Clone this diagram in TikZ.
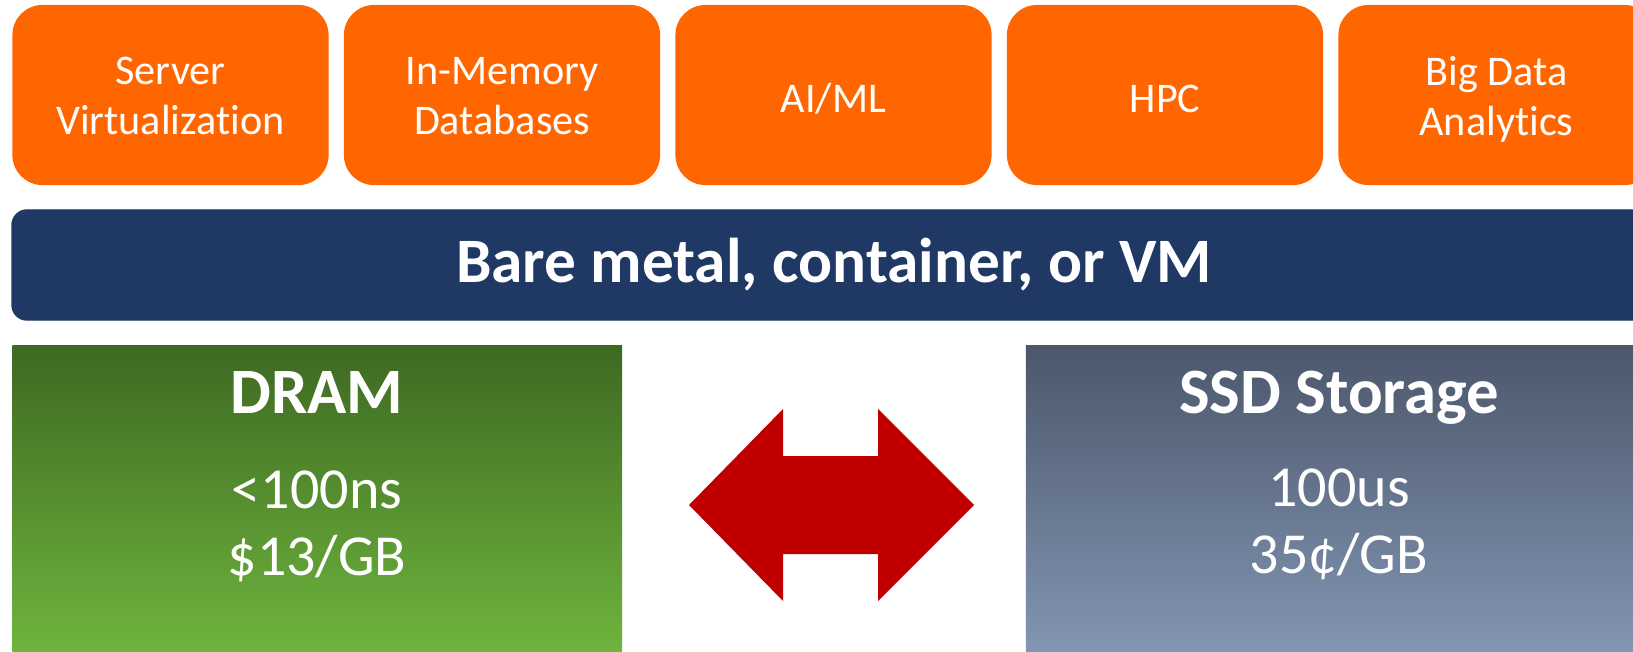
\documentclass[tikz,border=0pt]{standalone}
\usepackage{fontspec}
\setmainfont{Carlito}[Ligatures={NoCommon}]
\usepackage{tikz}

\definecolor{appcol}{HTML}{FF6600}
\definecolor{bandcol}{HTML}{203864}
\definecolor{dramtop}{HTML}{3E6922}
\definecolor{drambot}{HTML}{6EB43D}
\definecolor{ssdtop}{HTML}{4B576B}
\definecolor{ssdbot}{HTML}{8295B2}
\definecolor{xfercol}{HTML}{C00000}

\begin{document}
\begin{tikzpicture}
        [%%%%%%%%%%%%%%%%%%%%%%%%%%%%%%
        x=0.01cm, y=-0.01cm,
        app/.style={rectangle, rounded corners=0.3cm, fill=appcol,
          minimum width=3.16cm, minimum height=1.80cm},
        apptext/.style={text=white, align=center, inner sep=0pt,
          font=\fontsize{12}{14.2}\selectfont,
          execute at begin node=\strut, execute at end node=\strut},
        band/.style={rectangle, rounded corners=0.15cm, fill=bandcol, draw=bandcol,
          text=white, minimum width=16.43cm, minimum height=1.10cm,
          font=\bfseries\fontsize{18}{21}\selectfont},
        mem/.style={rectangle, minimum height=3.05cm},
        title/.style={anchor=base, text=white, font=\bfseries\fontsize{18.4}{21}\selectfont},
        value/.style={anchor=base, text=white, font=\fontsize{16.5}{19}\selectfont},
        ]%%%%%%%%%%%%%%%%%%%%%%%%%%%%%%
        \useasboundingbox (0,0) rectangle (1633,651);
        \clip (0,0) rectangle (1633,651);
        % Workload boxes
        \foreach \txt [count=\i] in {{Server\\Virtualization},{In-Memory\\Databases},
            AI/ML,HPC,{Big Data\\Analytics}}{
          \node[app] (app\i) at ({170.5+331.5*(\i-1)},95) {};
          \node[apptext] (lbl\i) at ([yshift=-0.08cm]app\i.center) {\txt};
        }
        % Host layer
        \node[band] (host) at (834,265) {Bare metal, container, or VM};
        % Memory and storage
        \node[mem, minimum width=6.095cm, top color=dramtop, bottom color=drambot]
          (dram) at (317.25,498.5) {};
        \node[mem, minimum width=6.26cm, top color=ssdtop, bottom color=ssdbot]
          (ssd) at (1339,498.5) {};
        % Text
        \node[title] (dramname) at (317,413) {DRAM};
        \node[value] (dramlat) at (317,508) {<100ns};
        \node[value] (dramcost) at (317,575) {\$13/GB};
        \node[title] (ssdname) at (1339,413) {SSD Storage};
        \node[value] (ssdlat) at (1339,506) {100us};
        \node[value] (ssdcost) at (1339,573) {35¢/GB};
        % Double arrow
        \coordinate (mid) at (831.5,505);
        \fill[xfercol] (mid) ++(-142.5,0) -- ++(94,-96) -- ++(0,47) -- ++(95,0)
          -- ++(0,-47) -- ++(96,96) -- ++(-96,96) -- ++(0,-47) -- ++(-95,0)
          -- ++(0,47) -- cycle;
      \end{tikzpicture}
\end{document}
